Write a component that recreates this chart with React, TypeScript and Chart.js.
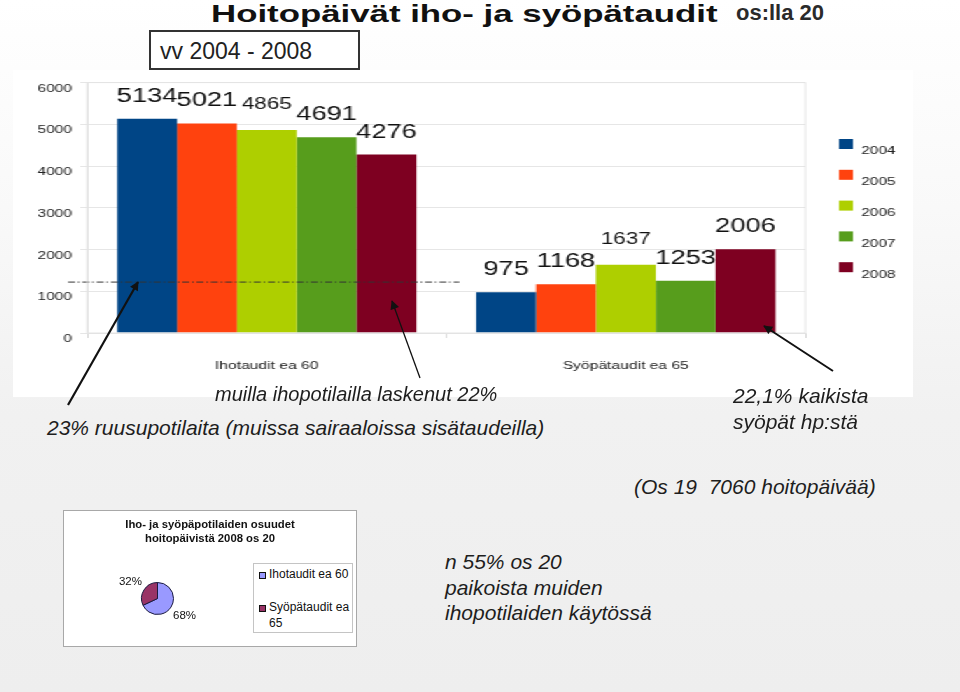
import React, { useEffect, useRef } from "react";
import { Chart, registerables } from "chart.js";
Chart.register(...registerables);

// ---- data ----
const categories = ["Ihotaudit ea 60", "Syöpätaudit ea 65"];
const years = ["2004", "2005", "2006", "2007", "2008"];
const values2004 = [5134, 975];
const values2005 = [5021, 1168];
const values2006 = [4865, 1637];
const values2007 = [4691, 1253];
const values2008 = [4276, 2006];
const yTicks = [0, 1000, 2000, 3000, 4000, 5000, 6000];
const referenceLevel = 1220;
const pieLabels = ["Ihotaudit ea 60", "Syöpätaudit ea 65"];
const pieValues = [68, 32];

// ---- styles ----
const FONT = "'Liberation Sans', Arial, Helvetica, sans-serif";
const barColors = ["#004586", "#ff420e", "#aecf00", "#579d1c", "#7e0021"];
const pieColors = ["#9999ff", "#993366"];
const STRETCH = 1.4;
const CW = 643;
const CH = 327;

const seriesValues = [values2004, values2005, values2006, values2007, values2008];

const barLabelPlugin = {
  id: "barLabels",
  afterDatasetsDraw(chart: any) {
    const ctx = chart.ctx;
    const { x: xs, y: ys } = chart.scales;
    const area = chart.chartArea;
    // dash-dot reference line
    const yRef = ys.getPixelForValue(referenceLevel);
    const mid = (xs.getPixelForValue(0) + xs.getPixelForValue(1)) / 2;
    ctx.save();
    ctx.strokeStyle = "#333";
    ctx.lineWidth = 1;
    ctx.setLineDash([5, 2, 1.2, 2]);
    ctx.beginPath();
    ctx.moveTo(area.left - 13.7, yRef);
    ctx.lineTo(mid + 9.3, yRef);
    ctx.stroke();
    ctx.restore();

    chart.data.datasets.forEach((ds: any, di: number) => {
      const meta = chart.getDatasetMeta(di);
      meta.data.forEach((el: any, i: number) => {
        ctx.save();
        ctx.fillStyle = "#111";
        ctx.font = `${ds.labelSize}px ${FONT}`;
        ctx.textAlign = "center";
        ctx.textBaseline = "alphabetic";
        ctx.fillText(String(ds.data[i]), el.x, el.y - ds.labelGap);
        ctx.restore();
      });
    });
  },
  afterDraw(chart: any) {
    const ctx = chart.ctx;
    const area = chart.chartArea;
    ctx.save();
    ctx.strokeStyle = "#e4e4e4";
    ctx.lineWidth = 1;
    ctx.strokeRect(area.left, area.top, area.right - area.left, area.bottom - area.top);
    // legend
    chart.data.datasets.forEach((ds: any, i: number) => {
      const y0 = 69 + i * 30.8;
      ctx.fillStyle = ds.backgroundColor;
      ctx.fillRect(590, y0, 10, 10);
      ctx.fillStyle = "#222";
      ctx.font = `11px ${FONT}`;
      ctx.textAlign = "left";
      ctx.textBaseline = "alphabetic";
      ctx.fillText(ds.label, 606, y0 + 15.3);
    });
    ctx.restore();
  },
};

const pieLabelPlugin = {
  id: "pieLabels",
  afterDatasetsDraw(chart: any) {
    const ctx = chart.ctx;
    const meta = chart.getDatasetMeta(0);
    const ds = chart.data.datasets[0];
    meta.data.forEach((arc: any, i: number) => {
      const a = (arc.startAngle + arc.endAngle) / 2;
      const r = arc.outerRadius + 16;
      ctx.save();
      ctx.fillStyle = "#111";
      ctx.font = `11.5px ${FONT}`;
      ctx.textAlign = "center";
      ctx.textBaseline = "middle";
      ctx.fillText(`${ds.data[i]}%`, arc.x + Math.cos(a) * r, arc.y + Math.sin(a) * r);
      ctx.restore();
    });
  },
};

function BarChart() {
  const ref = useRef<HTMLCanvasElement>(null);
  useEffect(() => {
    const chart = new Chart(ref.current as HTMLCanvasElement, {
      type: "bar",
      data: {
        labels: categories,
        datasets: years.map((y, i) => ({
          label: y,
          data: seriesValues[i],
          backgroundColor: barColors[i],
          categoryPercentage: 0.8333,
          barPercentage: 1,
          labelSize: i === 2 ? 16 : 19.5,
          labelGap: i === 2 ? 21 : 17,
        })) as any,
      },
      options: {
        animation: false,
        responsive: false,
        events: [],
        layout: { padding: { top: 7, right: 77, left: 0, bottom: 0 } },
        plugins: { legend: { display: false }, tooltip: { enabled: false } },
        scales: {
          x: {
            grid: { drawOnChartArea: false, drawTicks: true, tickLength: 5, color: "#d8d8d8" },
            border: { display: true, color: "#e2e2e2" },
            ticks: { padding: 21, color: "#222", font: { family: FONT, size: 11.2 } },
            afterFit: (s: any) => {
              s.height = 64;
            },
          },
          y: {
            min: 0,
            max: 6000,
            afterBuildTicks: (s: any) => {
              s.ticks = yTicks.map((v) => ({ value: v }));
            },
            grid: { color: "#e6e6e6", tickLength: 5 },
            border: { display: true, color: "#e2e2e2" },
            ticks: {
              padding: 6,
              labelOffset: 6,
              color: "#222",
              font: { family: FONT, size: 11 },
              callback: (v: any) => String(v),
            },
            afterFit: (s: any) => {
              s.width = 53;
            },
          },
        },
      } as any,
      plugins: [barLabelPlugin],
    });
    return () => chart.destroy();
  }, []);
  return <canvas ref={ref} width={CW} height={CH} style={{ display: "block" }} />;
}

function PieChart() {
  const ref = useRef<HTMLCanvasElement>(null);
  useEffect(() => {
    const chart = new Chart(ref.current as HTMLCanvasElement, {
      type: "pie",
      data: {
        labels: pieLabels,
        datasets: [
          {
            data: pieValues,
            backgroundColor: pieColors,
            borderColor: "#1a1a40",
            borderWidth: 1,
          },
        ],
      },
      options: {
        animation: false,
        responsive: false,
        events: [],
        layout: { padding: { left: 77, top: 71, right: 182, bottom: 31 } },
        plugins: { legend: { display: false }, tooltip: { enabled: false } },
      } as any,
      plugins: [pieLabelPlugin],
    });
    return () => chart.destroy();
  }, []);
  return <canvas ref={ref} width={292} height={135} style={{ display: "block", position: "absolute", left: 0, top: 0 }} />;
}

const italic: React.CSSProperties = {
  position: "absolute",
  fontFamily: FONT,
  fontStyle: "italic",
  color: "#1e1e1e",
  whiteSpace: "nowrap",
  lineHeight: "24px",
};

export default function App() {
  return (
    <div
      style={{
        position: "fixed",
        left: 0,
        top: 0,
        width: 960,
        height: 692,
        overflow: "hidden",
        background: "linear-gradient(#ffffff 0%, #f9f9f9 30%, #f1f1f1 60%, #eeeeee 100%)",
        fontFamily: FONT,
      }}
    >
      {/* title */}
      <div
        style={{
          position: "absolute",
          left: 211,
          top: 0,
          fontSize: 24,
          fontWeight: "bold",
          lineHeight: "28px",
          color: "#111",
          whiteSpace: "nowrap",
          transform: "scaleX(1.45)",
          transformOrigin: "0 0",
        }}
      >
        Hoitopäivät iho- ja syöpätaudit
      </div>
      <div
        style={{
          position: "absolute",
          left: 736,
          top: 0,
          fontSize: 22,
          fontWeight: "bold",
          lineHeight: "26px",
          color: "#2a2a2a",
          whiteSpace: "nowrap",
        }}
      >
        os:lla 20
      </div>

      {/* bar chart image */}
      <div
        style={{
          position: "absolute",
          left: 13,
          top: 70,
          width: CW,
          height: CH,
          background: "#fff",
          transform: `scaleX(${STRETCH})`,
          transformOrigin: "0 0",
        }}
      >
        <BarChart />
      </div>

      {/* years box */}
      <div
        style={{
          position: "absolute",
          left: 149,
          top: 30,
          width: 211,
          height: 40,
          boxSizing: "border-box",
          border: "2px solid #333",
          background: "#fff",
        }}
      >
        <div style={{ position: "absolute", left: 9, top: 6, fontSize: 23, lineHeight: "26px", color: "#222", whiteSpace: "nowrap" }}>
          vv 2004 - 2008
        </div>
      </div>

      {/* annotations */}
      <div style={{ ...italic, left: 215, top: 382, fontSize: 20 }}>muilla ihopotilailla laskenut 22%</div>
      <div style={{ ...italic, left: 47, top: 416, fontSize: 21 }}>23% ruusupotilaita (muissa sairaaloissa sisätaudeilla)</div>
      <div style={{ ...italic, left: 733, top: 383, fontSize: 21, lineHeight: "26px" }}>
        22,1% kaikista
        <br />
        syöpät hp:stä
      </div>
      <div style={{ ...italic, left: 634, top: 475, fontSize: 21 }}>(Os 19&nbsp;&nbsp;7060 hoitopäivää)</div>
      <div style={{ ...italic, left: 445, top: 549, fontSize: 21, lineHeight: "25.5px" }}>
        n 55% os 20
        <br />
        paikoista muiden
        <br />
        ihopotilaiden käytössä
      </div>

      {/* pie chart box */}
      <div
        style={{
          position: "absolute",
          left: 63,
          top: 510,
          width: 294,
          height: 137,
          boxSizing: "border-box",
          border: "1px solid #a8a8a8",
          background: "#fff",
        }}
      >
        <PieChart />
        <div
          style={{
            position: "absolute",
            left: 0,
            top: 6,
            width: 292,
            textAlign: "center",
            fontSize: 11.3,
            fontWeight: "bold",
            lineHeight: "14px",
            color: "#111",
          }}
        >
          Iho- ja syöpäpotilaiden osuudet
          <br />
          hoitopäivistä 2008 os 20
        </div>
        <div
          style={{
            position: "absolute",
            left: 189,
            top: 52,
            width: 100,
            height: 70,
            boxSizing: "border-box",
            border: "1px solid #c4c4c4",
            background: "#fff",
          }}
        >
          {pieLabels.map((lab, i) => (
            <div key={lab} style={{ position: "absolute", left: 5, top: i === 0 ? 2 : 35, width: 92 }}>
              <div
                style={{
                  position: "absolute",
                  left: 0,
                  top: 6,
                  width: 7,
                  height: 7,
                  boxSizing: "border-box",
                  border: "1px solid #111",
                  background: pieColors[i],
                }}
              />
              <div style={{ marginLeft: 10, width: 84, fontSize: 12, lineHeight: "16px", color: "#111" }}>{lab}</div>
            </div>
          ))}
        </div>
      </div>

      {/* arrows */}
      <svg width={960} height={692} style={{ position: "absolute", left: 0, top: 0, pointerEvents: "none" }}>
        <defs>
          <marker id="ah" viewBox="0 0 10 10" refX="9" refY="5" markerWidth="10" markerHeight="9" markerUnits="userSpaceOnUse" orient="auto">
            <path d="M0,0 L10,5 L0,10 z" fill="#111" />
          </marker>
        </defs>
        <line x1={68} y1={405} x2={138} y2={282} stroke="#111" strokeWidth={2.2} markerEnd="url(#ah)" />
        <line x1={420} y1={378} x2={392} y2={301} stroke="#111" strokeWidth={1.3} markerEnd="url(#ah)" />
        <line x1={833} y1={371} x2={764} y2={326} stroke="#111" strokeWidth={2} markerEnd="url(#ah)" />
      </svg>
    </div>
  );
}
